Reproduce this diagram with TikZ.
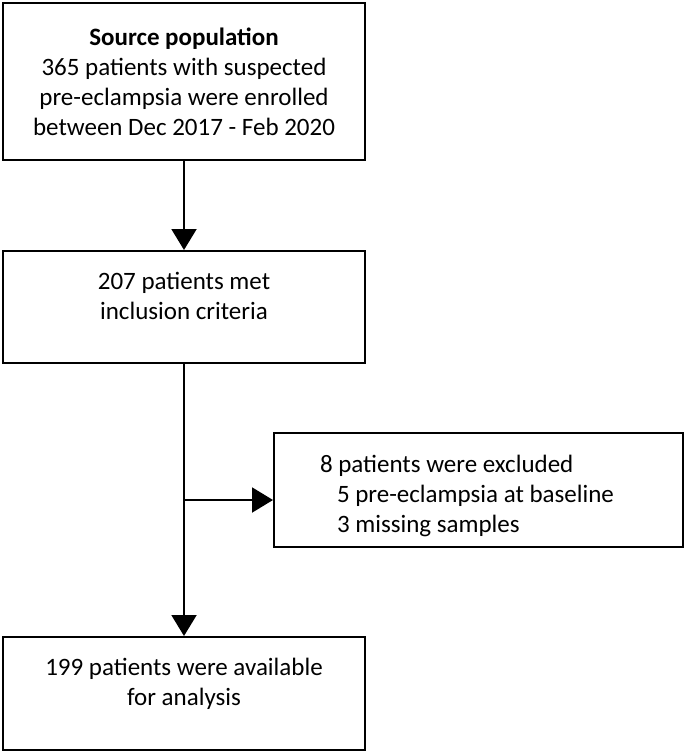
\documentclass[tikz,border=0pt]{standalone}
\usepackage{fontspec}
\setmainfont{Carlito}
\usetikzlibrary{arrows.meta}
\begin{document}
\begin{tikzpicture}
	[x=1pt,y=1pt,
	every node/.style={font=\fontsize{25}{30}\selectfont},
	box/.style={draw,line width=2pt,rectangle,align=center,inner sep=0pt},
	flow/.style={line width=2pt,-{Triangle[width=25pt,length=21pt]}}
	]
	\useasboundingbox (0,0) rectangle (685,-753);
	\node[box,minimum width=362pt,minimum height=157pt] (source) at (184,-81.5)
		{\textbf{Source population}\\365 patients with suspected\\pre-eclampsia were enrolled\\between Dec 2017 - Feb 2020};
	\node[box,minimum width=362pt,minimum height=112pt,text depth=22pt] (met) at (184,-307)
		{207 patients met\\inclusion criteria};
	\node[box,align=flush left,text width=317pt,inner xsep=46pt,minimum height=114pt,text height=30pt] (excluded) at (478.5,-490)
		{8 patients were excluded\\\hspace*{17pt}5 pre-eclampsia at baseline\\\hspace*{17pt}3 missing samples};
	\node[box,minimum width=362pt,minimum height=113pt,text depth=24pt] (available) at (184,-693.5)
		{199 patients were available\\for analysis};
	\coordinate (split) at (184,-500);
	\draw[flow] (source) -- (met);
	\draw[flow] (met) -- (available);
	\draw[flow] (split) -- (split -| excluded.west);
\end{tikzpicture}
\end{document}
